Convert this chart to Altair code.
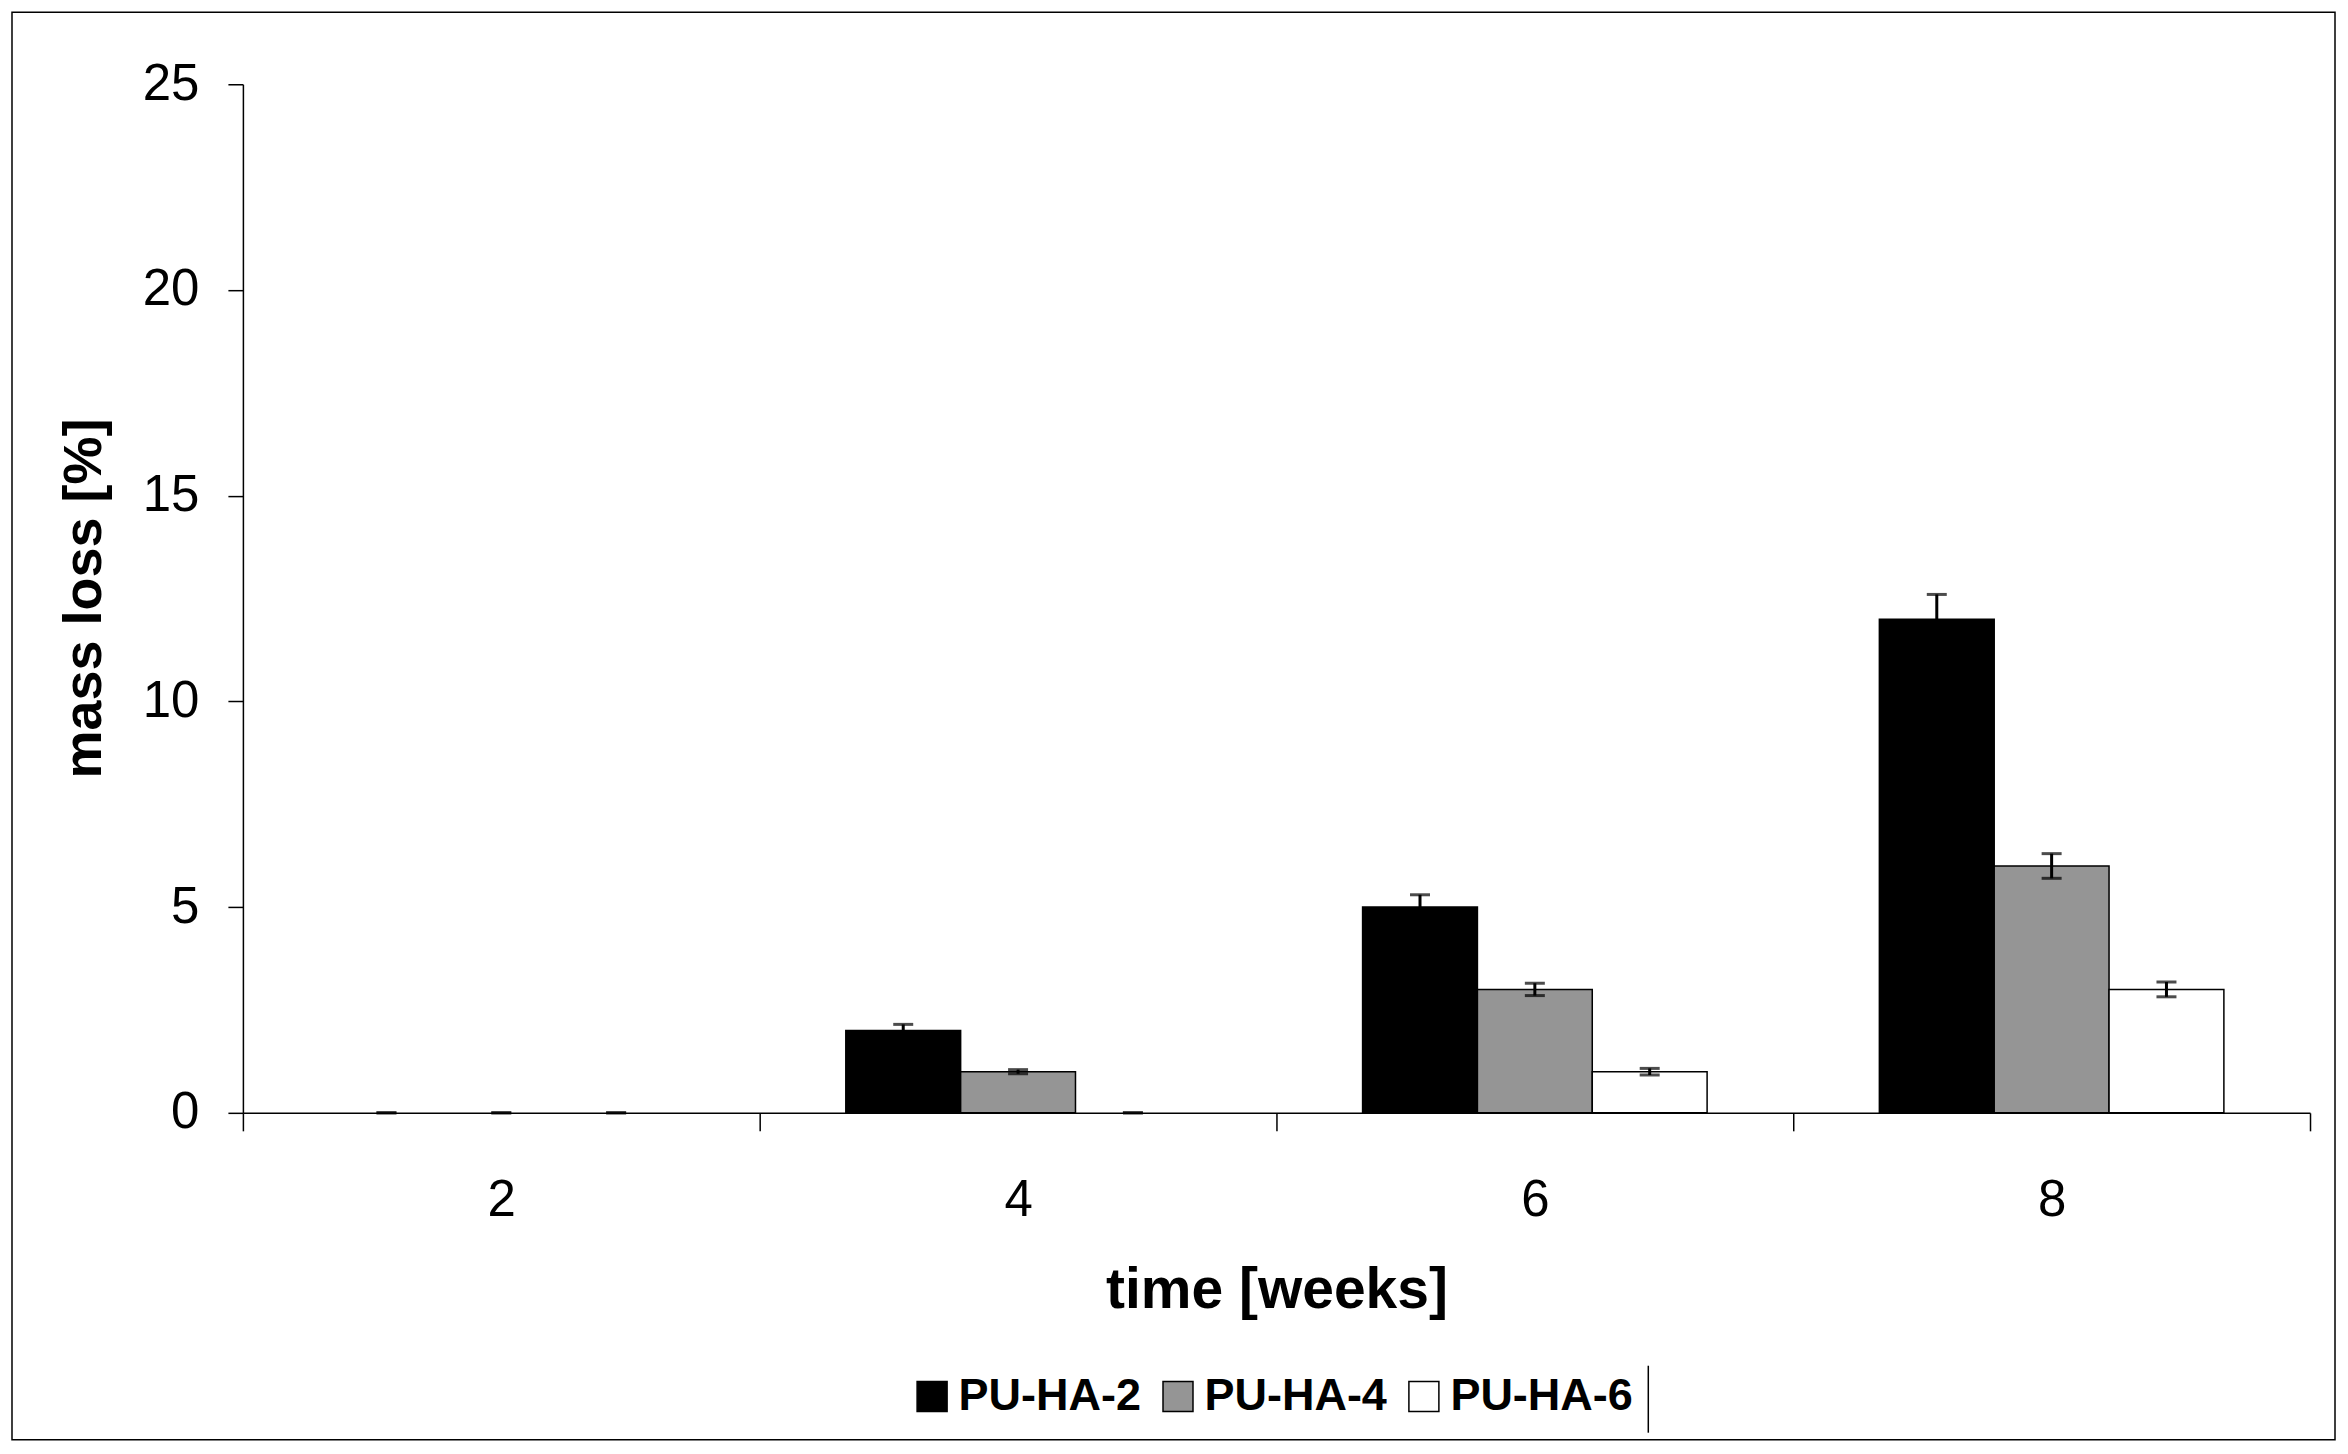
import altair as alt
import pandas as pd

weeks = ["2", "4", "6", "8"]
series = ["PU-HA-2", "PU-HA-4", "PU-HA-6"]
ha2 = [0.0, 2.0, 5.0, 12.0]
ha2_err = [0.0, 0.15, 0.3, 0.6]
ha4 = [0.0, 1.0, 3.0, 6.0]
ha4_err = [0.0, 0.05, 0.15, 0.3]
ha6 = [0.0, 0.0, 1.0, 3.0]
ha6_err = [0.0, 0.0, 0.08, 0.18]
y_ticks = [0, 5, 10, 15, 20, 25]
colors = ["#000000", "#959595", "#ffffff"]

rows = []
for i, w in enumerate(weeks):
    for s, vals, errs in [("PU-HA-2", ha2, ha2_err), ("PU-HA-4", ha4, ha4_err), ("PU-HA-6", ha6, ha6_err)]:
        v, e = vals[i], errs[i]
        rows.append({"week": w, "series": s, "value": v, "lo": max(v - e, 0.0), "hi": v + e})
df = pd.DataFrame(rows)

FONT = "Liberation Sans"

x_enc = alt.X(
    "week:N", sort=weeks,
    scale=alt.Scale(paddingInner=0, paddingOuter=0),
    axis=alt.Axis(
        title="time [weeks]", tickBand="extent", labelAngle=0,
        labelFontSize=51, labelPadding=45, tickSize=18,
        titleFontSize=57, titleFontWeight="bold", titleY=178, titleBaseline="middle",
        domainColor="black", tickColor="black", domainWidth=1.5, tickWidth=1.5,
    ),
)
xo_enc = alt.XOffset("series:N", sort=series, scale=alt.Scale(paddingInner=0, paddingOuter=0.75))
y_scale = alt.Scale(domain=[0, 25], nice=False)
y_axis = alt.Axis(
    title="mass loss [%]", values=y_ticks, grid=False, tickSize=15, labelPadding=29,
    labelFontSize=51, titleFontSize=54, titleFontWeight="bold",
    titleX=-158, titleY=514, titleBaseline="middle",
    domainColor="black", tickColor="black", domainWidth=1.5, tickWidth=1.5,
)

base = alt.Chart(df)

bars = base.mark_bar(stroke="black").encode(
    x=x_enc, xOffset=xo_enc,
    y=alt.Y("value:Q", scale=y_scale, axis=y_axis),
    strokeWidth=alt.condition("datum.value > 0", alt.value(1.5), alt.value(0)),
    color=alt.Color(
        "series:N", sort=series,
        scale=alt.Scale(domain=series, range=colors),
        legend=alt.Legend(
            orient="none", legendX=667, legendY=1290, direction="horizontal",
            title=None, symbolType="square", symbolSize=900,
            symbolStrokeColor="black", symbolStrokeWidth=1.5,
            labelFontSize=45, labelFontWeight="bold", labelOffset=4,
            columnPadding=14, padding=0, labelLimit=0, labelColor="black",
        ),
    ),
)

err_rule = base.mark_rule(color="black", strokeWidth=3).encode(
    x=x_enc, xOffset=xo_enc, y=alt.Y("lo:Q", scale=y_scale), y2="hi:Q"
)
cap_hi = base.mark_tick(color="black", thickness=3, size=20).encode(
    x=x_enc, xOffset=xo_enc, y=alt.Y("hi:Q", scale=y_scale)
)
cap_lo = base.mark_tick(color="black", thickness=3, size=20).encode(
    x=x_enc, xOffset=xo_enc, y=alt.Y("lo:Q", scale=y_scale)
)

one = alt.Chart(pd.DataFrame({"a": [0]}))
frame = one.mark_rect(filled=False, stroke="black", strokeWidth=1.5).encode(
    x=alt.value(-231), x2=alt.value(2093), y=alt.value(-72), y2=alt.value(1356)
)
legend_line = one.mark_rule(color="black", strokeWidth=1.5).encode(
    x=alt.value(1406), y=alt.value(1282), y2=alt.value(1349)
)

chart = alt.layer(bars, err_rule, cap_hi, cap_lo, frame, legend_line).properties(
    width=2068, height=1029,
    autosize=alt.AutoSizeParams(type="none"),
    padding={"left": 235, "top": 76, "right": 30, "bottom": 330},
    background="white",
).configure_view(stroke=None).configure_axis(
    labelFont=FONT, titleFont=FONT, labelColor="black", titleColor="black"
).configure_legend(labelFont=FONT)

chart.save("out.html", embed_options={"renderer": "svg", "actions": False})
